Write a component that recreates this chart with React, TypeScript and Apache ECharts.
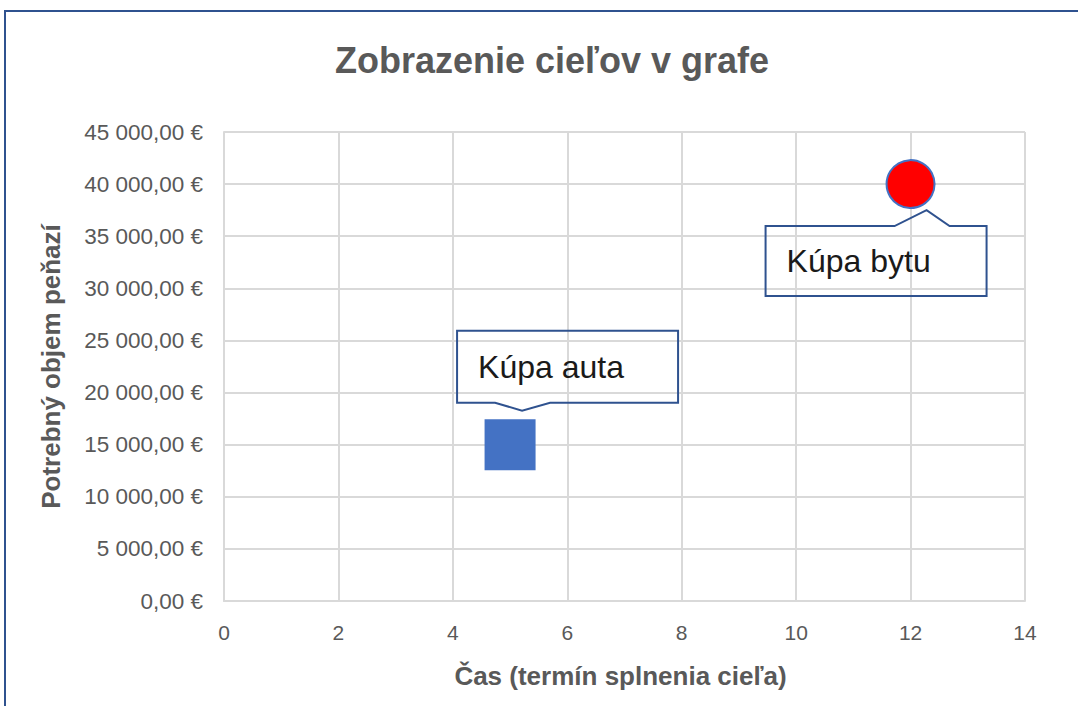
import React, { useEffect, useRef } from "react";
import * as echarts from "echarts";

const title = "Zobrazenie cieľov v grafe";
const xAxisName = "Čas (termín splnenia cieľa)";
const yAxisName = "Potrebný objem peňazí";
const goalNames = ["Kúpa auta", "Kúpa bytu"];
const goalYears = [5, 12];
const goalAmounts = [15000, 40000];

// callout geometry relative to the data point (pixels)
const callouts = [
  { left: -53, right: 168, top: -114, bottom: -42, baseA: -15, baseB: 40, tipX: 12, tipY: -34, side: "bottom", textX: -32, textY: -78 },
  { left: -145, right: 76, top: 42, bottom: 112, baseA: -16, baseB: 39, tipX: 16, tipY: 26, side: "top", textX: -124, textY: 77 },
];

function fmtEuro(v: number): string {
  const fixed = v.toFixed(2);
  const [intPart, dec] = fixed.split(".");
  const grouped = intPart.replace(/\B(?=(\d{3})+(?!\d))/g, " ");
  return grouped + "," + dec + " €";
}

export default function App() {
  const ref = useRef<HTMLDivElement>(null);
  useEffect(() => {
    document.body.style.margin = "0";
    const chart = echarts.init(ref.current!, null, { renderer: "svg" });
    const font = "'Liberation Sans', Arial, sans-serif";
    chart.setOption({
      animation: false,
      backgroundColor: "#ffffff",
      title: {
        text: title,
        left: 547,
        textAlign: "center",
        top: 37,
        textStyle: { fontFamily: font, fontSize: 36, fontWeight: "bold", color: "#595959" },
      },
      graphic: [
        {
          type: "polyline",
          shape: { points: [[5, 706], [5, 11], [1078, 11]] },
          style: { stroke: "#2F528F", lineWidth: 2, fill: "none" },
          silent: true,
        },
      ],
      grid: { left: 224, right: 53, top: 132, bottom: 105 },
      xAxis: {
        type: "value",
        min: 0,
        max: 14,
        interval: 2,
        name: xAxisName,
        nameLocation: "middle",
        nameGap: 62,
        nameTextStyle: { fontFamily: font, fontSize: 26, fontWeight: "bold", color: "#595959", padding: [0, 8, 0, 0] },
        axisLine: { show: true, lineStyle: { color: "#D9D9D9", width: 2 } },
        axisTick: { show: false },
        axisLabel: { fontFamily: font, fontSize: 21, color: "#595959", margin: 21 },
        splitLine: { show: true, lineStyle: { color: "#D9D9D9", width: 2 } },
      },
      yAxis: {
        type: "value",
        min: 0,
        max: 45000,
        interval: 5000,
        name: yAxisName,
        nameLocation: "middle",
        nameGap: 160,
        nameTextStyle: { fontFamily: font, fontSize: 26, fontWeight: "bold", color: "#595959" },
        axisLine: { show: true, lineStyle: { color: "#D9D9D9", width: 2 } },
        axisTick: { show: false },
        axisLabel: { fontFamily: font, fontSize: 22.5, color: "#595959", margin: 21, formatter: (v: number) => fmtEuro(v) },
        splitLine: { show: true, lineStyle: { color: "#D9D9D9", width: 2 } },
      },
      series: [
        {
          type: "custom",
          name: "callouts",
          silent: true,
          z: 3,
          data: goalYears.map((x, i) => [x, goalAmounts[i], i]),
          renderItem: (params: any, api: any) => {
            const i = api.value(2);
            const p = api.coord([api.value(0), api.value(1)]);
            const c = callouts[i];
            const px = p[0], py = p[1];
            let pts: number[][];
            if (c.side === "bottom") {
              pts = [
                [px + c.left, py + c.top], [px + c.right, py + c.top], [px + c.right, py + c.bottom],
                [px + c.baseB, py + c.bottom], [px + c.tipX, py + c.tipY], [px + c.baseA, py + c.bottom],
                [px + c.left, py + c.bottom],
              ];
            } else {
              pts = [
                [px + c.left, py + c.top], [px + c.baseA, py + c.top], [px + c.tipX, py + c.tipY],
                [px + c.baseB, py + c.top], [px + c.right, py + c.top], [px + c.right, py + c.bottom],
                [px + c.left, py + c.bottom],
              ];
            }
            return {
              type: "group",
              children: [
                { type: "polygon", shape: { points: pts }, style: { fill: "none", stroke: "#2F528F", lineWidth: 2 } },
                {
                  type: "text",
                  x: px + c.textX,
                  y: py + c.textY,
                  style: {
                    text: goalNames[i],
                    fontFamily: font,
                    fontSize: 32,
                    fill: "#1a1a1a",
                    verticalAlign: "middle",
                    align: "left",
                  },
                },
              ],
            };
          },
        },
        {
          type: "scatter",
          name: goalNames[0],
          symbol: "rect",
          symbolSize: 51,
          z: 4,
          itemStyle: { color: "#4472C4", opacity: 1 },
          data: [[goalYears[0], goalAmounts[0]]],
        },
        {
          type: "scatter",
          name: goalNames[1],
          symbol: "circle",
          symbolSize: 48,
          z: 4,
          itemStyle: { color: "#FF0000", borderColor: "#4472C4", borderWidth: 2, opacity: 1 },
          data: [[goalYears[1], goalAmounts[1]]],
        },
      ],
    });
    return () => chart.dispose();
  }, []);
  return <div ref={ref} style={{ position: "fixed", left: 0, top: 0, width: 1078, height: 706 }} />;
}
